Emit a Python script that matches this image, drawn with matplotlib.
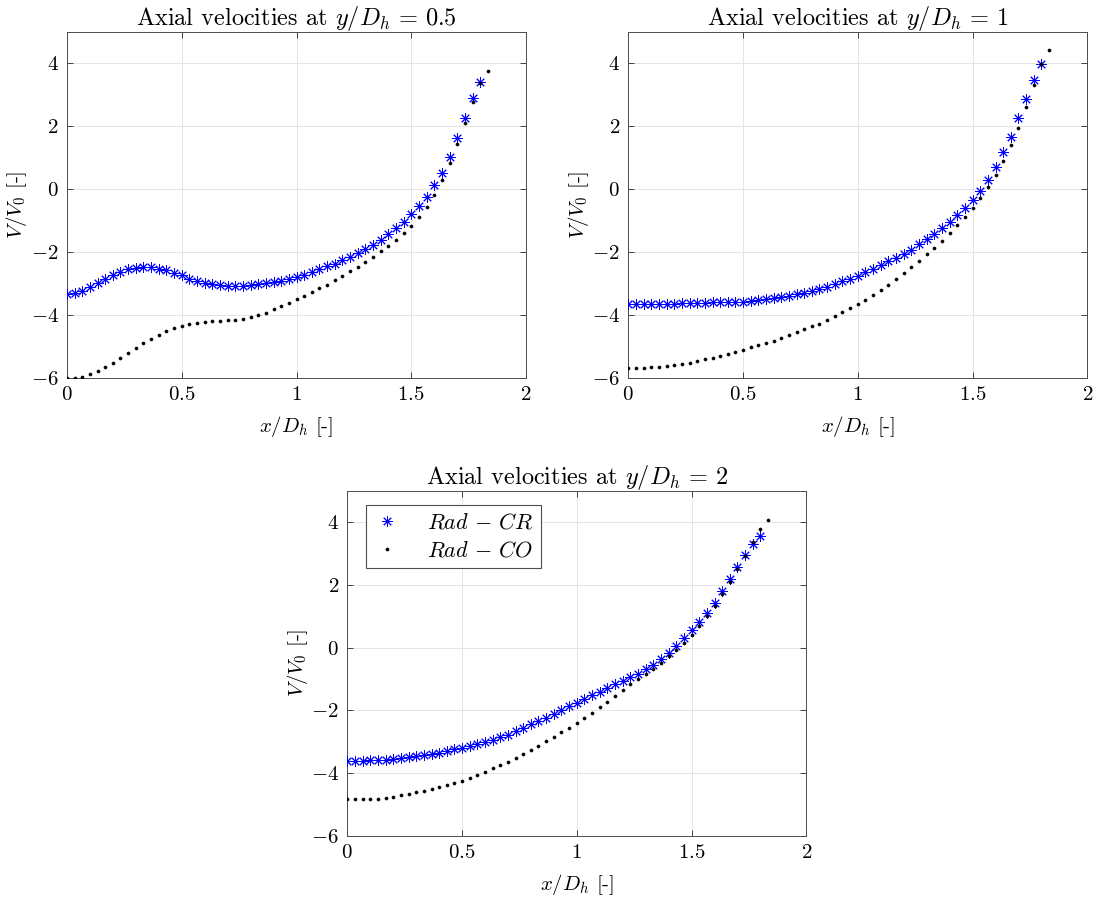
import matplotlib
matplotlib.use("Agg")
import matplotlib.pyplot as plt
from matplotlib.ticker import FixedLocator, FuncFormatter

plt.rcParams["font.family"] = "serif"
plt.rcParams["font.serif"] = ["cmr10", "DejaVu Serif"]
plt.rcParams["mathtext.fontset"] = "cm"
plt.rcParams["axes.unicode_minus"] = False
plt.rcParams["axes.formatter.use_mathtext"] = True

# Streamwise positions x/D_h of the sampling points
x_pos = [0.000, 0.033, 0.067, 0.100, 0.133, 0.167, 0.200, 0.233, 0.267, 0.300,
         0.333, 0.367, 0.400, 0.433, 0.467, 0.500, 0.533, 0.567, 0.600, 0.633,
         0.667, 0.700, 0.733, 0.767, 0.800, 0.833, 0.867, 0.900, 0.933, 0.967,
         1.000, 1.033, 1.067, 1.100, 1.133, 1.167, 1.200, 1.233, 1.267, 1.300,
         1.333, 1.367, 1.400, 1.433, 1.467, 1.500, 1.533, 1.567, 1.600, 1.633,
         1.667, 1.700, 1.733, 1.767, 1.800, 1.833]

# y/D_h = 0.5
cr_05 = [-3.32, -3.29, -3.22, -3.11, -2.97, -2.86, -2.72, -2.62, -2.55, -2.50,
         -2.47, -2.48, -2.52, -2.58, -2.66, -2.74, -2.84, -2.91, -2.97, -3.02,
         -3.05, -3.07, -3.07, -3.06, -3.04, -3.02, -2.98, -2.95, -2.91, -2.86,
         -2.79, -2.72, -2.63, -2.54, -2.45, -2.36, -2.25, -2.15, -2.04, -1.90,
         -1.77, -1.60, -1.42, -1.23, -1.03, -0.80, -0.54, -0.23, 0.12, 0.53,
         1.04, 1.62, 2.26, 2.90, 3.42]
co_05 = [-6.01, -5.99, -5.96, -5.88, -5.79, -5.66, -5.52, -5.37, -5.21, -5.04,
         -4.90, -4.75, -4.62, -4.50, -4.41, -4.34, -4.29, -4.25, -4.22, -4.20,
         -4.18, -4.17, -4.15, -4.12, -4.06, -4.00, -3.92, -3.82, -3.72, -3.61,
         -3.49, -3.40, -3.28, -3.15, -3.03, -2.90, -2.75, -2.60, -2.47, -2.31,
         -2.14, -1.97, -1.79, -1.60, -1.39, -1.16, -0.89, -0.56, -0.17, 0.29,
         0.82, 1.44, 2.11, 2.78, 3.38, 3.76]

# y/D_h = 1
cr_1 = [-3.65, -3.65, -3.65, -3.65, -3.64, -3.64, -3.64, -3.63, -3.62, -3.61,
        -3.60, -3.59, -3.58, -3.58, -3.57, -3.57, -3.55, -3.53, -3.50, -3.47,
        -3.43, -3.39, -3.34, -3.29, -3.24, -3.17, -3.10, -3.02, -2.93, -2.84,
        -2.75, -2.63, -2.53, -2.42, -2.29, -2.18, -2.05, -1.92, -1.75, -1.58,
        -1.41, -1.22, -1.03, -0.82, -0.59, -0.34, -0.04, 0.30, 0.70, 1.17,
        1.67, 2.25, 2.86, 3.48, 3.98]
co_1 = [-5.67, -5.67, -5.67, -5.66, -5.65, -5.62, -5.58, -5.54, -5.51, -5.46,
        -5.41, -5.36, -5.31, -5.25, -5.18, -5.10, -5.03, -4.96, -4.89, -4.81,
        -4.72, -4.63, -4.54, -4.45, -4.36, -4.27, -4.16, -4.04, -3.91, -3.78,
        -3.65, -3.51, -3.36, -3.21, -3.03, -2.85, -2.66, -2.48, -2.28, -2.06,
        -1.86, -1.64, -1.39, -1.14, -0.88, -0.59, -0.27, 0.08, 0.45, 0.90,
        1.40, 1.96, 2.61, 3.30, 3.98, 4.43]

# y/D_h = 2
cr_2 = [-3.60, -3.60, -3.60, -3.59, -3.58, -3.57, -3.55, -3.53, -3.49, -3.46,
        -3.43, -3.39, -3.36, -3.30, -3.24, -3.19, -3.13, -3.07, -3.01, -2.94,
        -2.86, -2.77, -2.66, -2.56, -2.45, -2.34, -2.23, -2.11, -2.00, -1.87,
        -1.75, -1.63, -1.51, -1.40, -1.29, -1.17, -1.06, -0.95, -0.83, -0.69,
        -0.54, -0.37, -0.17, 0.05, 0.30, 0.56, 0.82, 1.10, 1.43, 1.79,
        2.17, 2.56, 2.94, 3.30, 3.56]
co_2 = [-4.82, -4.83, -4.83, -4.82, -4.81, -4.78, -4.75, -4.70, -4.66, -4.61,
        -4.56, -4.50, -4.44, -4.39, -4.32, -4.25, -4.15, -4.07, -3.95, -3.84,
        -3.75, -3.63, -3.52, -3.39, -3.26, -3.12, -2.97, -2.85, -2.70, -2.57,
        -2.41, -2.25, -2.07, -1.90, -1.72, -1.54, -1.36, -1.17, -1.00, -0.83,
        -0.67, -0.48, -0.28, -0.07, 0.15, 0.40, 0.69, 1.00, 1.32, 1.69,
        2.08, 2.49, 2.90, 3.37, 3.77, 4.06]

heights = ["0.5", "1", "2"]
series_cr = [cr_05, cr_1, cr_2]
series_co = [co_05, co_1, co_2]
labels = [r"$Rad\,-\,CR$", r"$Rad\,-\,CO$"]

x_ticks = [0, 0.5, 1, 1.5, 2]
y_ticks = [-6, -4, -2, 0, 2, 4]
x_lim = (0, 2)
y_lim = (-6, 5)

fig = plt.figure(figsize=(11.04, 9.01), dpi=100)
W, H = 1104.0, 901.0
boxes = [(67.0, 32.0, 459.0, 346.0),
         (628.3, 32.0, 459.0, 346.0),
         (347.3, 490.5, 459.0, 345.5)]

fmt = FuncFormatter(lambda v, p: "$%g$" % v)

for k, (l, t, w, h) in enumerate(boxes):
    ax = fig.add_axes([l / W, 1 - (t + h) / H, w / W, h / H])
    xs = x_pos[:len(series_cr[k])]
    ax.plot(xs, series_cr[k], linestyle="none", marker=(8, 2, 0),
            markersize=7.5, markeredgewidth=0.7, color="#0000ff",
            label=labels[0], zorder=3)
    xs2 = x_pos[:len(series_co[k])]
    ax.plot(xs2, series_co[k], linestyle="none", marker=".",
            markersize=4.5, markeredgewidth=0.4, color="black",
            label=labels[1], zorder=4)
    ax.set_xlim(*x_lim)
    ax.set_ylim(*y_lim)
    ax.xaxis.set_major_locator(FixedLocator(x_ticks))
    ax.yaxis.set_major_locator(FixedLocator(y_ticks))
    ax.xaxis.set_major_formatter(fmt)
    ax.yaxis.set_major_formatter(fmt)
    ax.tick_params(direction="in", length=4.5, width=0.6, color="0.15",
                   labelsize=15, top=True, right=True, pad=6)
    ax.grid(True, color="#e4e4e4", linewidth=0.7)
    ax.set_axisbelow(True)
    for s in ax.spines.values():
        s.set_color("0.3")
        s.set_linewidth(0.7)
    ax.set_title(r"Axial velocities at $y/D_h\,=\,%s$" % heights[k],
                 fontsize=17.5, pad=5)
    ax.set_xlabel(r"$x/D_h$ [-]", fontsize=15)
    ax.xaxis.set_label_coords(0.5, -0.103)
    ax.set_ylabel(r"$V/V_0$ [-]", fontsize=15)
    ax.yaxis.set_label_coords(-0.082, 0.5)
    if k == 2:
        leg = ax.legend(loc="upper left", bbox_to_anchor=(0.041, 0.958),
                        borderaxespad=0, fontsize=16, fancybox=False,
                        framealpha=1, edgecolor="0.3", handlelength=1.2,
                        handletextpad=1.2, borderpad=0.35, labelspacing=0.35)
        leg.get_frame().set_linewidth(0.8)

fig.savefig("out.png", dpi=100)
